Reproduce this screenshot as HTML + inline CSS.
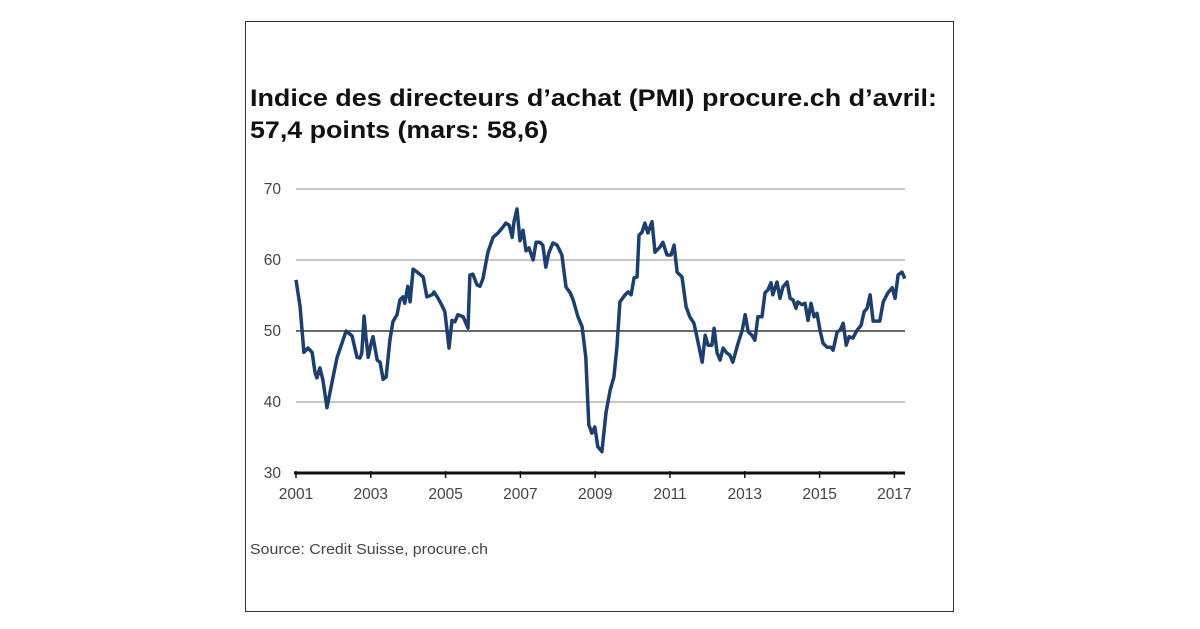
<!DOCTYPE html>
<html><head><meta charset="utf-8"><style>
body{margin:0;background:#fff;}
svg{display:block;font-family:"Liberation Sans",Arial,sans-serif;}
</style></head><body>
<svg width="1200" height="629" viewBox="0 0 1200 629">
<rect x="245.5" y="21.5" width="708" height="590" fill="#fff" stroke="#333" stroke-width="1"/>
<text x="250" y="106" font-size="24" font-weight="bold" fill="#111" textLength="687" lengthAdjust="spacingAndGlyphs">Indice des directeurs d’achat (PMI) procure.ch d’avril:</text>
<text x="250" y="138" font-size="24" font-weight="bold" fill="#111" textLength="298" lengthAdjust="spacingAndGlyphs">57,4 points (mars: 58,6)</text>
<g id="grid"></g>
<g id="axes"></g>
<path id="line" fill="none" stroke="#1c3f6e" stroke-width="3.5" stroke-linejoin="round"/>
<text x="250" y="554" font-size="14.5" fill="#444" textLength="238" lengthAdjust="spacingAndGlyphs">Source: Credit Suisse, procure.ch</text>
</svg>
<script>
const yTicks=[30,40,50,60,70];
const xTicks=[2001,2003,2005,2007,2009,2011,2013,2015,2017];
const years=[0,.11,.21,.32,.43,.51,.56,.64,.72,.83,.96,1.10,1.23,1.34,1.50,1.63,1.71,1.76,1.82,1.87,1.93,2.01,2.06,2.17,2.25,2.33,2.41,2.51,2.59,2.70,2.78,2.86,2.91,2.99,3.05,3.13,3.24,3.40,3.50,3.64,3.69,3.80,3.90,3.98,4.09,4.17,4.25,4.33,4.47,4.60,4.65,4.73,4.84,4.92,5.00,5.13,5.27,5.40,5.53,5.61,5.70,5.78,5.83,5.91,5.99,6.07,6.15,6.23,6.34,6.42,6.52,6.60,6.68,6.76,6.87,6.98,7.11,7.22,7.33,7.41,7.54,7.65,7.75,7.83,7.91,7.99,8.07,8.18,8.29,8.40,8.50,8.58,8.66,8.80,8.88,8.96,9.04,9.12,9.17,9.25,9.33,9.41,9.52,9.60,9.73,9.81,9.92,10.03,10.11,10.19,10.32,10.43,10.53,10.64,10.72,10.86,10.94,11.02,11.12,11.18,11.26,11.34,11.42,11.52,11.60,11.68,11.82,11.93,12.01,12.09,12.19,12.27,12.35,12.46,12.54,12.62,12.70,12.75,12.86,12.94,13.02,13.13,13.21,13.29,13.37,13.42,13.53,13.61,13.69,13.77,13.85,13.93,14.01,14.09,14.20,14.30,14.36,14.47,14.55,14.63,14.71,14.79,14.89,15.00,15.11,15.19,15.27,15.35,15.43,15.61,15.70,15.83,15.94,16.02,16.10,16.20,16.28];
const values=[57.2,53.4,47.0,47.6,47.0,44.1,43.4,44.8,43.1,39.2,42.7,46.3,48.3,50.0,49.3,46.3,46.2,46.9,52.1,49.2,46.3,48.3,49.2,45.9,45.6,43.2,43.5,48.7,51.3,52.3,54.4,54.8,53.9,56.3,54.1,58.7,58.3,57.6,54.8,55.1,55.5,54.6,53.6,52.7,47.6,51.5,51.3,52.3,52.0,50.4,57.9,58.0,56.5,56.3,57.4,61.1,63.2,63.8,64.6,65.2,64.9,63.2,65.4,67.2,62.7,64.2,61.3,61.7,60.0,62.5,62.5,62.1,59.0,61.0,62.4,62.1,60.7,56.2,55.4,54.4,52.0,50.6,46.3,36.8,35.6,36.5,33.7,33.0,38.5,41.7,43.5,47.7,54.1,55.1,55.5,55.1,57.5,57.6,63.5,63.9,65.2,63.8,65.4,61.1,61.8,62.5,60.7,60.7,62.1,58.3,57.6,53.4,52.0,51.1,49.2,45.6,49.4,48.0,48.0,50.4,46.9,45.9,47.6,46.9,46.6,45.6,48.3,50.1,52.3,49.9,49.4,48.7,52.0,52.0,55.4,55.8,56.8,55.1,56.9,54.6,56.2,56.9,54.6,54.4,53.2,54.1,53.7,53.9,51.5,53.9,52.0,52.5,50.1,48.3,47.7,47.7,47.3,49.9,50.1,51.1,48.0,49.2,49.0,50.1,50.8,52.7,53.2,55.1,51.4,51.4,54.1,55.4,56.1,54.6,57.9,58.3,57.4];
const ns="http://www.w3.org/2000/svg";
function X(yr){return 296+(yr-2001)*37.4;}
function Y(v){return 473-(v-30)*7.1;}
const grid=document.getElementById('grid'),axes=document.getElementById('axes');
yTicks.forEach(t=>{
  if(t>30){const l=document.createElementNS(ns,'line');
  
  
  l.setAttribute('x1',296);l.setAttribute('x2',905);l.setAttribute('y1',Y(t));l.setAttribute('y2',Y(t));
  l.setAttribute('stroke',t===50?'#111':'#b5b5b5');l.setAttribute('stroke-width',t===50?1.2:1.5);grid.appendChild(l);}
  const tx=document.createElementNS(ns,'text');
  
  
  tx.setAttribute('x',281);tx.setAttribute('y',Y(t)+5);tx.setAttribute('text-anchor','end');
  tx.setAttribute('font-size','15.5');tx.setAttribute('fill','#444');tx.textContent=t;axes.appendChild(tx);
});
const ax=document.createElementNS(ns,'line');


ax.setAttribute('x1',294);ax.setAttribute('x2',905);ax.setAttribute('y1',473);ax.setAttribute('y2',473);
ax.setAttribute('stroke','#111');ax.setAttribute('stroke-width','3');axes.appendChild(ax);
xTicks.forEach(t=>{
  const k=document.createElementNS(ns,'line');
  
  
  k.setAttribute('x1',X(t));k.setAttribute('x2',X(t));k.setAttribute('y1',471);k.setAttribute('y2',478);
  k.setAttribute('stroke','#111');k.setAttribute('stroke-width','1.5');axes.appendChild(k);
  const tx=document.createElementNS(ns,'text');
  
  
  tx.setAttribute('x',X(t));tx.setAttribute('y',499);tx.setAttribute('text-anchor','middle');
  tx.setAttribute('font-size','15.5');tx.setAttribute('fill','#444');tx.textContent=t;axes.appendChild(tx);
});
let d='';
years.forEach((y,i)=>{d+=(i?'L':'M')+X(2001+y).toFixed(1)+','+Y(values[i]).toFixed(1);});
document.getElementById('line').setAttribute('d',d);
</script>
</body></html>
